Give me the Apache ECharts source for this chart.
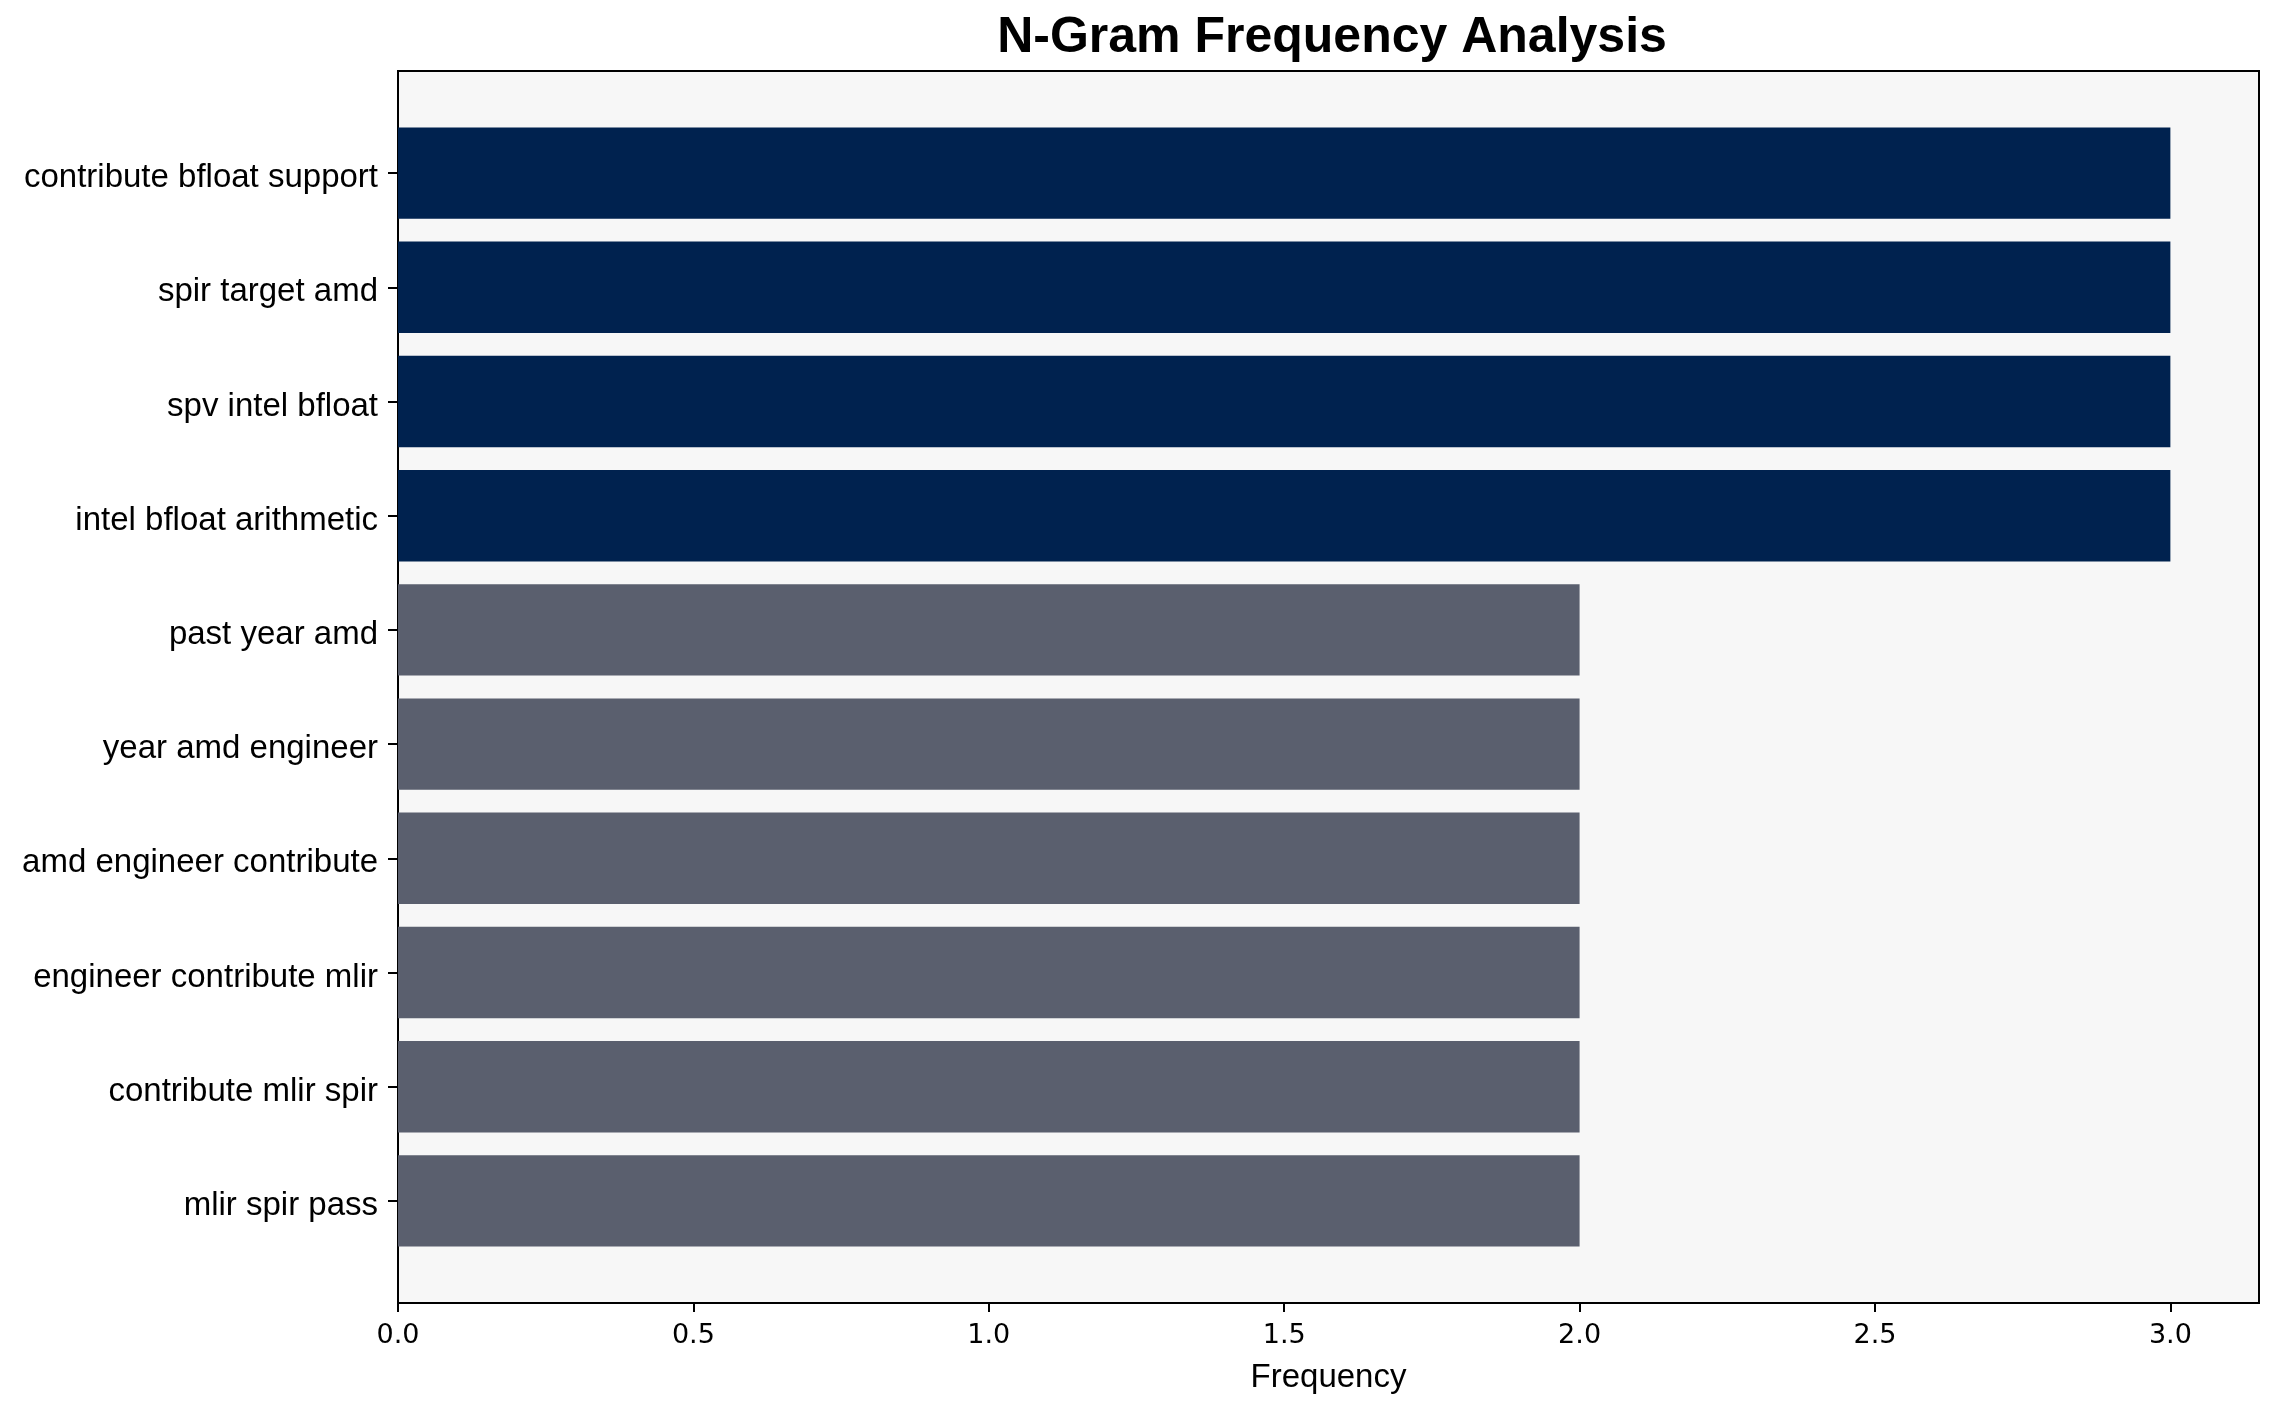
<!DOCTYPE html>
<html>
<head>
<meta charset="utf-8">
<script src="https://cdn.jsdelivr.net/npm/echarts@6/dist/echarts.min.js"></script>
<style>
  html, body { margin: 0; padding: 0; background: #fff; }
  #main { width: 2278px; height: 1414px; }
</style>
</head>
<body>
<div id="main"></div>
<script>
// n-grams, top to bottom
var ngrams = [
	'contribute bfloat support',
	'spir target amd',
	'spv intel bfloat',
	'intel bfloat arithmetic',
	'past year amd',
	'year amd engineer',
	'amd engineer contribute',
	'engineer contribute mlir',
	'contribute mlir spir',
	'mlir spir pass'
];
var counts = [3, 3, 3, 3, 2, 2, 2, 2, 2, 2];
var xTicks = [0, 0.5, 1.0, 1.5, 2.0, 2.5, 3.0];

var NAVY = '#00224f';
var GREY = '#5a5f6e';

var myChart = echarts.init(document.getElementById('main'));

var option = {
	backgroundColor: '#ffffff',
	animation: false,
	title: {
		text: 'N-Gram Frequency Analysis',
		left: 1327,
		textAlign: 'center',
		top: 8,
		textStyle: {
			fontFamily: 'Liberation Sans, Arial, sans-serif',
			fontSize: 50,
			fontWeight: 'bold',
			color: '#000'
		}
	},
	grid: [
		// outer frame (axes box)
		{ left: 398, right: 19, top: 71, bottom: 111, show: true,
		  backgroundColor: '#f7f7f7', borderColor: '#000', borderWidth: 2 },
		// inner area where the bars live
		{ left: 398, right: 19, top: 116, bottom: 156 }
	],
	xAxis: [
		{
			type: 'value', gridIndex: 0, min: 0, max: 3.15,
			name: 'Frequency', nameLocation: 'middle', nameGap: 58,
			nameTextStyle: { fontFamily: 'Liberation Sans, Arial, sans-serif', fontSize: 33, color: '#000' },
			axisLine: { show: true, lineStyle: { color: '#000', width: 2 } },
			axisTick: { show: true, length: 9, lineStyle: { color: '#000', width: 2 }, customValues: xTicks },
			axisLabel: {
				customValues: xTicks, margin: 19,
				fontFamily: 'DejaVu Sans', fontSize: 27, color: '#000',
				formatter: function (v) { return v.toFixed(1); }
			},
			splitLine: { show: false }
		},
		{ type: 'value', gridIndex: 1, min: 0, max: 3.15, show: false }
	],
	yAxis: [
		{ type: 'value', gridIndex: 0, show: false },
		{
			type: 'category', gridIndex: 1, inverse: true, data: ngrams,
			axisLine: { show: false },
			axisTick: { show: true, alignWithLabel: true, length: 10, lineStyle: { color: '#000', width: 2 } },
			axisLabel: {
				margin: 20, verticalAlign: 'top', lineHeight: 10,
				fontFamily: 'Liberation Sans, Arial, sans-serif', fontSize: 33, color: '#000'
			}
		}
	],
	series: [
		{
			type: 'bar',
			xAxisIndex: 1,
			yAxisIndex: 1,
			data: counts,
			barCategoryGap: '20%',
			itemStyle: {
				color: function (p) { return p.value >= 3 ? NAVY : GREY; }
			}
		}
	]
};

myChart.setOption(option);
</script>
</body>
</html>
